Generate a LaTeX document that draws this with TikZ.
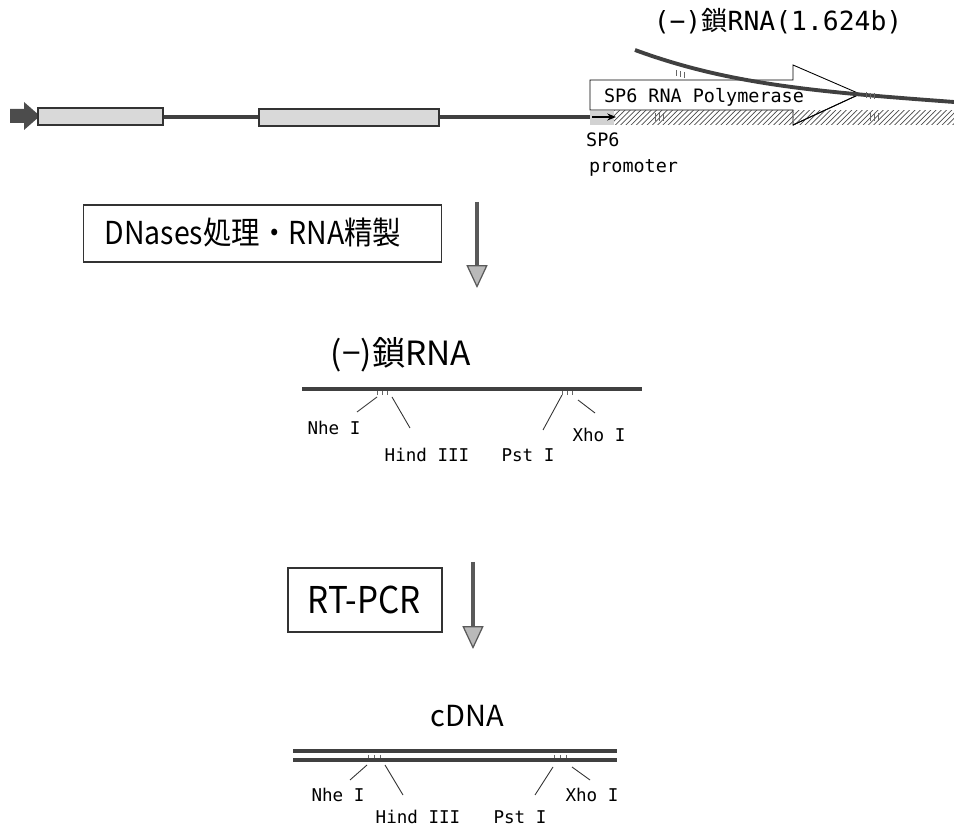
\documentclass[tikz,border=0pt]{standalone}
\usepackage{fontspec}
\newfontfamily\jp{Noto Sans CJK JP}
\newfontfamily\jpn[FakeStretch=0.9]{Noto Sans CJK JP}
\newfontfamily\mono{DejaVu Sans Mono}
\usetikzlibrary{arrows.meta,patterns}

\tikzset{
  strand/.style={line width=2.2pt,draw=black!75,line cap=butt},
  exon/.style={draw=black!80,fill=gray!30,line width=0.6pt},
  stepbox/.style={draw=black!80,line width=0.6pt,inner sep=0pt},
  leader/.style={draw=black!80,line width=0.5pt},
  sitemark/.style={draw=black!60,line width=0.4pt},
  sitelabel/.style={font=\mono\fontsize{10}{12}\selectfont},
  monolabel/.style={font=\mono\fontsize{10.5}{12}\selectfont},
  downarrow/.style={draw=black!65,line width=2pt,
    -{Triangle[width=12pt,length=13pt,fill=gray!55,line width=0.7pt]}},
}

\begin{document}
\begin{tikzpicture}[x=0.02cm,y=-0.02cm]
  \useasboundingbox (0,0) rectangle (954,830);

  % gene construct
  \draw[strand] (40,117) -- (590,117);
  \fill[black!70] (10,109) -- (24,109) -- (24,102) -- (40,116) -- (24,130)
    -- (24,123) -- (10,123) -- cycle;
  \node[exon,minimum width=2.5cm,minimum height=0.34cm,inner sep=0pt]
    (exonA) at (100.5,116.5) {};
  \node[exon,minimum width=3.6cm,minimum height=0.34cm,inner sep=0pt]
    (exonB) at (349,117.5) {};

  % polymerase
  \draw[black,line width=0.5pt,fill=white] (590,80) -- (793,80) -- (793,65)
    -- (860,94) -- (793,125) -- (793,110) -- (590,110) -- cycle;
  \fill[gray!35] (590,111) rectangle (614,125);
  \fill[pattern=north east lines,pattern color=black!70] (614,111) rectangle (954,125);
  \draw[black!50,densely dotted] (793,110) -- (793,125);
  \draw[black,line width=0.5pt] (793,125) -- (860,94);
  \node[monolabel] (pol) at (704,97) {SP6 RNA Polymerase};
  \coordinate (promA) at (592,117);
  \coordinate (promB) at (616,117);
  \draw[black,line width=0.6pt,-{Stealth[length=5pt,width=4pt]}] (promA) -- (promB);
  \draw[sitemark] (655,113) -- (655,121) (659,113) -- (659,121) (663,113) -- (663,121);
  \draw[sitemark] (870,113) -- (870,121) (874,113) -- (874,121) (878,113) -- (878,121);
  \node[monolabel,anchor=west] (sp) at (580,140) {SP6};
  \node[monolabel,anchor=west] (prom) at (583,168) {promoter};

  % transcript
  \draw[strand] (635,50) .. controls (730,85) and (820,92) .. (954,102);
  \draw[sitemark] (676,70) -- (676,76) (680,71) -- (680,77) (684,72) -- (684,78);
  \draw[sitemark] (866,92) -- (866,98) (870,93) -- (870,99) (874,93) -- (874,99);
  \node[font=\mono\fontsize{15}{18}\selectfont,inner sep=0pt] (rnaTop) at (778,21)
    {(−){\jp 鎖}RNA(1.624b)};

  % step 1
  \node[stepbox,minimum width=7.18cm,minimum height=1.14cm] (dnase)
    at (262.5,233.5) {};
  \node[font=\jpn\fontsize{18}{20}\selectfont] (dnaseText) at (253,233)
    {DNases処理・RNA精製};
  \coordinate (arrA) at (477,202);
  \coordinate (arrB) at (477,288);
  \draw[downarrow] (arrA) -- (arrB);

  % (-) strand RNA
  \node[font=\jp\fontsize{19}{22}\selectfont] (rnaMid) at (401,355) {(−)鎖RNA};
  \coordinate (rnaL) at (302,389);
  \coordinate (rnaR) at (642,389);
  \draw[strand] (rnaL) -- (rnaR);
  \draw[sitemark] (377,391) -- (377,395) (382,391) -- (382,395) (387,391) -- (387,395);
  \draw[sitemark] (562,391) -- (562,395) (567,391) -- (567,395) (572,391) -- (572,395);
  \node[sitelabel] (nheR) at (334,428) {Nhe I};
  \node[sitelabel] (hindR) at (427,455) {Hind III};
  \node[sitelabel] (pstR) at (528,455) {Pst I};
  \node[sitelabel] (xhoR) at (599,435) {Xho I};
  \coordinate (nheRa) at (357,412); \coordinate (nheRb) at (377,397);
  \coordinate (hindRa) at (392,397); \coordinate (hindRb) at (410,428);
  \coordinate (pstRa) at (543,430); \coordinate (pstRb) at (562,395);
  \coordinate (xhoRa) at (578,400); \coordinate (xhoRb) at (595,413);
  \draw[leader] (nheRa) -- (nheRb);
  \draw[leader] (hindRa) -- (hindRb);
  \draw[leader] (pstRa) -- (pstRb);
  \draw[leader] (xhoRa) -- (xhoRb);

  % step 2
  \node[stepbox,minimum width=3.08cm,minimum height=1.28cm] (rtpcr)
    at (365,600) {};
  \node[font=\jpn\fontsize{21}{24}\selectfont] (rtpcrText) at (364,600) {RT-PCR};
  \coordinate (arr2A) at (473,562);
  \coordinate (arr2B) at (473,649);
  \draw[downarrow] (arr2A) -- (arr2B);

  % cDNA
  \node[font=\jp\fontsize{16.5}{20}\selectfont] (cdna) at (467,716) {cDNA};
  \draw[strand] (293,751) -- (617,751);
  \draw[strand] (293,760) -- (617,760);
  \draw[sitemark] (368,755) -- (368,758) (374,755) -- (374,758) (380,755) -- (380,758);
  \draw[sitemark] (554,755) -- (554,758) (560,755) -- (560,758) (566,755) -- (566,758);
  \node[sitelabel] (nheD) at (338,795) {Nhe I};
  \node[sitelabel] (hindD) at (418,817) {Hind III};
  \node[sitelabel] (pstD) at (520,817) {Pst I};
  \node[sitelabel] (xhoD) at (592,795) {Xho I};
  \coordinate (nheDa) at (350,780); \coordinate (nheDb) at (367,765);
  \coordinate (hindDa) at (385,765); \coordinate (hindDb) at (403,795);
  \coordinate (pstDa) at (535,795); \coordinate (pstDb) at (553,767);
  \coordinate (xhoDa) at (572,767); \coordinate (xhoDb) at (590,780);
  \draw[leader] (nheDa) -- (nheDb);
  \draw[leader] (hindDa) -- (hindDb);
  \draw[leader] (pstDa) -- (pstDb);
  \draw[leader] (xhoDa) -- (xhoDb);
\end{tikzpicture}
\end{document}
